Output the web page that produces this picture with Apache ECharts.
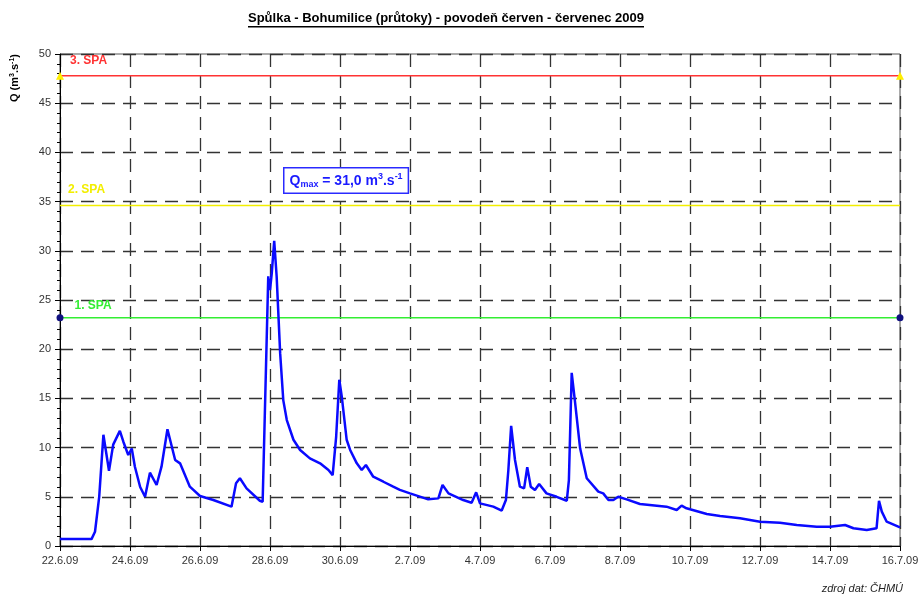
<!DOCTYPE html>
<html>
<head>
<meta charset="utf-8">
<script src="https://cdn.jsdelivr.net/npm/echarts@6/dist/echarts.min.js"></script>
<style>
  html, body { margin: 0; padding: 0; background: #fff; }
  #chart { width: 922px; height: 597px; }
</style>
</head>
<body>
<div id="chart"></div>
<script>
// čas ve dnech od 22.6.09 00:00
var dayOffsets = [0, 0.9, 1.0, 1.12, 1.24, 1.40, 1.52, 1.71, 1.81, 1.95, 2.05, 2.14, 2.29, 2.43, 2.57, 2.76, 2.90, 3.07, 3.29, 3.43, 3.71, 4.0, 4.38, 4.9, 5.03, 5.14, 5.33, 5.71, 5.79, 5.95, 6.0, 6.05, 6.12, 6.19, 6.29, 6.38, 6.48, 6.67, 6.86, 7.14, 7.43, 7.67, 7.79, 7.89, 7.98, 8.05, 8.19, 8.29, 8.48, 8.62, 8.74, 8.95, 9.24, 9.52, 9.71, 10.0, 10.52, 10.81, 10.93, 11.10, 11.52, 11.76, 11.89, 12.0, 12.38, 12.62, 12.74, 12.81, 12.89, 13.0, 13.14, 13.26, 13.35, 13.45, 13.57, 13.69, 13.9, 14.19, 14.48, 14.54, 14.62, 14.71, 14.86, 15.05, 15.38, 15.52, 15.67, 15.81, 15.95, 16.19, 16.57, 17.33, 17.62, 17.76, 17.9, 18.48, 18.86, 19.43, 20.0, 20.57, 21.05, 21.62, 22.0, 22.43, 22.67, 23.05, 23.33, 23.4, 23.48, 23.62, 24.0];
// průtok Q (m3/s)
var flowValues = [0.7, 0.7, 1.45, 5.0, 11.3, 7.65, 10.3, 11.7, 10.6, 9.25, 9.9, 8.06, 6.0, 5.0, 7.45, 6.2, 8.06, 11.86, 8.74, 8.4, 6.03, 5.08, 4.67, 4.0, 6.37, 6.88, 5.86, 4.6, 4.5, 27.4, 26.0, 27.7, 31.0, 27.4, 19.6, 14.8, 12.8, 10.8, 9.76, 8.9, 8.4, 7.72, 7.2, 11.1, 16.9, 15.2, 10.8, 9.76, 8.4, 7.72, 8.23, 7.04, 6.53, 6.03, 5.7, 5.35, 4.74, 4.84, 6.2, 5.35, 4.67, 4.4, 5.45, 4.33, 4.0, 3.6, 4.67, 7.7, 12.2, 8.74, 6.03, 5.86, 8.0, 6.03, 5.69, 6.3, 5.35, 5.0, 4.6, 6.7, 17.6, 14.8, 9.93, 6.88, 5.52, 5.35, 4.67, 4.67, 5.0, 4.74, 4.27, 4.0, 3.66, 4.1, 3.83, 3.25, 3.05, 2.81, 2.47, 2.37, 2.13, 1.96, 1.96, 2.13, 1.8, 1.63, 1.8, 4.6, 3.49, 2.47, 1.9];

var tickLabels = ["22.6.09", "24.6.09", "26.6.09", "28.6.09", "30.6.09", "2.7.09", "4.7.09", "6.7.09", "8.7.09", "10.7.09", "12.7.09", "14.7.09", "16.7.09"];

// stupně povodňové aktivity
var spaNames = ["1. SPA", "2. SPA", "3. SPA"];
var spaLevels = [23.2, 34.6, 47.8];
var spaColors = ["#33ee33", "#f2ee00", "#ff3333"];
var spaSymbols = ["circle", "circle", "triangle"];
var spaSymbolSizes = [7, 0, 8];
var spaSymbolColors = ["#101080", "#f2ee00", "#ffee00"];

var qMax = "31,0";

var chart = echarts.init(document.getElementById("chart"));

var flowData = dayOffsets.map(function (d, i) { return [d, flowValues[i]]; });

var font = "Liberation Sans, Arial, sans-serif";
var labelOffsets = [[6, -12], [3, -16], [1, -15]];

var spaSeries = spaNames.map(function (name, i) {
  return {
    name: name,
    type: "line",
    data: [
      { value: [0, spaLevels[i]], label: {
          show: true, formatter: name, position: "right", offset: labelOffsets[i],
          color: spaColors[i], fontWeight: "bold", fontSize: 12, fontFamily: font } },
      [24, spaLevels[i]]
    ],
    symbol: spaSymbols[i],
    symbolSize: spaSymbolSizes[i],
    itemStyle: { color: spaSymbolColors[i] },
    lineStyle: { color: spaColors[i], width: 1.5 },
    z: 3,
    silent: true
  };
});

var option = {
  backgroundColor: "#fff",
  animation: false,
  grid: {
    left: 60, right: 22, top: 54, bottom: 51,
    show: true, borderColor: "#555", borderWidth: 1
  },
  xAxis: {
    type: "value",
    min: 0, max: 24, interval: 2,
    axisLine: { lineStyle: { color: "#000", width: 1 } },
    axisTick: { show: true, length: 5, lineStyle: { color: "#000" } },
    axisLabel: {
      color: "#333", fontSize: 11, fontFamily: font, margin: 9,
      formatter: function (v) { return tickLabels[Math.round(v / 2)]; }
    },
    splitLine: { show: true, lineStyle: { color: "#333", width: 1.3, type: [13, 8] } }
  },
  yAxis: {
    type: "value",
    min: 0, max: 50, interval: 5,
    axisLine: { show: true, lineStyle: { color: "#000", width: 1 } },
    axisTick: { show: true, length: 5, lineStyle: { color: "#000" } },
    minorTick: { show: true, splitNumber: 5, length: 3, lineStyle: { color: "#000" } },
    axisLabel: { color: "#333", fontSize: 11, fontFamily: font, margin: 9 },
    splitLine: { show: true, lineStyle: { color: "#333", width: 1.3, type: [13, 8] } }
  },
  series: spaSeries.concat([{
    name: "Q",
    type: "line",
    data: flowData,
    showSymbol: false,
    lineStyle: { color: "#0a0aff", width: 2.5 },
    z: 4
  }]),
  graphic: [
    {
      type: "text", left: 248, top: 12,
      style: {
        text: "Spůlka - Bohumilice (průtoky) - povodeň červen - červenec 2009",
        font: "bold 13px " + font, fill: "#000"
      }
    },
    { type: "rect", shape: { x: 248, y: 26, width: 396, height: 1.5 }, style: { fill: "#000" } },
    {
      type: "text", x: 15, y: 78, rotation: Math.PI / 2,
      style: {
        text: "Q (m{sup|3}.s{sup|-1})",
        font: "bold 11px " + font, fill: "#000",
        align: "center", verticalAlign: "middle",
        rich: { sup: { fontSize: 7, fontWeight: "bold", fontFamily: font, verticalAlign: "top", padding: [0, 0, 6, 0] } }
      }
    },
    {
      type: "text", left: 283, top: 167, z: 10,
      style: {
        text: "Q{sub|max} = " + qMax + " m{sup|3}.s{sup|-1}",
        font: "bold 14px " + font, fill: "#1a1aff",
        backgroundColor: "#fff", borderColor: "#2a2aff", borderWidth: 1.5,
        padding: [4, 5, 3, 5],
        rich: {
          sub: { fontSize: 9, fontWeight: "bold", fontFamily: font, fill: "#1a1aff", padding: [8, 0, 0, 0] },
          sup: { fontSize: 9, fontWeight: "bold", fontFamily: font, fill: "#1a1aff", padding: [0, 0, 8, 0] }
        }
      }
    },
    {
      type: "text", right: 19, top: 583,
      style: { text: "zdroj dat: ČHMÚ", font: "italic 11px " + font, fill: "#222" }
    }
  ]
};

chart.setOption(option);
</script>
</body>
</html>
